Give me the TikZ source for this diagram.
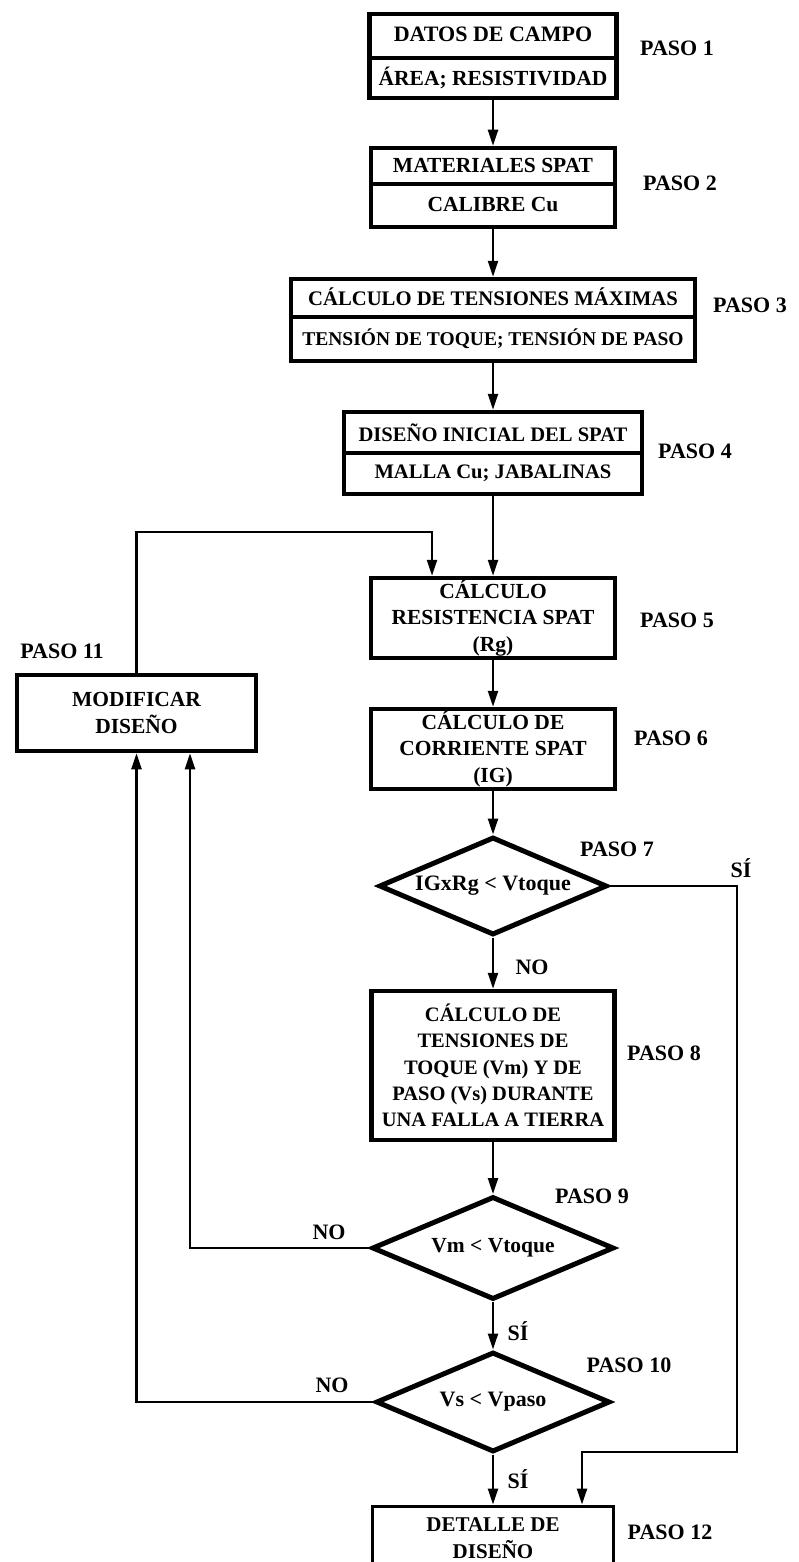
\documentclass[tikz,border=0pt]{standalone}
\usepackage{fontspec}
\setmainfont{Liberation Serif}
\usetikzlibrary{shapes.geometric,arrows.meta}
\begin{document}
\begin{tikzpicture}[x=1pt,y=-1pt,
  fs/.style={font=\fontsize{#1}{26.3}\selectfont\bfseries},
  halfbox/.style={fs=21,draw,line width=4.5pt,inner sep=0pt,align=center},
  stepbox/.style={fs=21.5,draw,line width=4.5pt,inner sep=0pt,align=center},
  finalbox/.style={fs=21,draw,line width=3pt,inner sep=0pt,align=center},
  decision/.style={fs=22,diamond,draw,line width=5pt,inner sep=0pt,aspect=2.3},
  steplabel/.style={fs=22,inner sep=0pt},
  flow/.style={line width=2.3pt,-{Triangle[length=16pt,width=10pt]}}]
\clip (0,0) rectangle (798,1562);
\fill[white] (0,0) rectangle (798,1562);

% Steps 1-4: two-part boxes
\node[halfbox,fs=22,minimum width=247,minimum height=44,text depth=3pt] (b1t) at (493,36) {DATOS DE CAMPO};
\node[halfbox,fs=21.5,minimum width=247,minimum height=40] (b1b) at (493,78) {ÁREA; RESISTIVIDAD};
\node[halfbox,fs=21.5,minimum width=244,minimum height=36,text depth=2pt] (b2t) at (493,166) {MATERIALES SPAT};
\node[halfbox,fs=21.5,minimum width=244,minimum height=43,text depth=2pt] (b2b) at (493,205.5) {CALIBRE Cu};
\node[halfbox,fs=20.7,minimum width=404,minimum height=38,text depth=3pt] (b3t) at (493,298) {CÁLCULO DE TENSIONES MÁXIMAS};
\node[halfbox,fs=19.5,minimum width=404,minimum height=44] (b3b) at (493,339) {TENSIÓN DE TOQUE; TENSIÓN DE PASO};
\node[halfbox,fs=20.6,minimum width=298,minimum height=41] (b4t) at (493,432.5) {DISEÑO INICIAL DEL SPAT};
\node[halfbox,fs=20.6,minimum width=298,minimum height=41] (b4b) at (493,473.5) {MALLA Cu; JABALINAS};

% Steps 5-12
\node[stepbox,minimum width=244,minimum height=80] (b5) at (493,618) {CÁLCULO\\RESISTENCIA SPAT\\(Rg)};
\node[stepbox,minimum width=244,minimum height=80] (b6) at (493,749) {CÁLCULO DE\\CORRIENTE SPAT\\(IG)};
\node[decision,minimum width=228,minimum height=98] (d7) at (493,886) {IGxRg < Vtoque};
\node[stepbox,fs=20.5,minimum width=243,minimum height=149] (b8) at (493,1065.5) {CÁLCULO DE\\TENSIONES DE\\TOQUE (Vm) Y DE\\PASO (Vs) DURANTE\\UNA FALLA A TIERRA};
\node[decision,fs=21.5,minimum width=242,minimum height=103] (d9) at (493,1248) {Vm < Vtoque};
\node[decision,minimum width=234,minimum height=100] (d10) at (493,1402) {Vs < Vpaso};
\node[stepbox,minimum width=239,minimum height=76] (b11) at (136.5,713) {MODIFICAR\\DISEÑO};
\node[finalbox,fs=21,minimum width=241,minimum height=64] (b12) at (493,1538) {DETALLE DE\\DISEÑO};

% Step labels
\node[steplabel] (p1) at (677,48) {PASO 1};
\node[steplabel] (p2) at (680,183) {PASO 2};
\node[steplabel] (p3) at (750,305) {PASO 3};
\node[steplabel] (p4) at (695,451) {PASO 4};
\node[steplabel] (p5) at (677,620) {PASO 5};
\node[steplabel] (p6) at (671,738) {PASO 6};
\node[steplabel] (p7) at (617,849) {PASO 7};
\node[steplabel] (p8) at (664,1053) {PASO 8};
\node[steplabel] (p9) at (592,1196) {PASO 9};
\node[steplabel] (p10) at (629,1365) {PASO 10};
\node[steplabel] (p11) at (62,651) {PASO 11};
\node[steplabel] (p12) at (670,1532) {PASO 12};

% Branch labels
\node[steplabel] (si7) at (741,868) {SÍ};
\node[steplabel] (no7) at (532,967) {NO};
\node[steplabel] (no9) at (329,1232) {NO};
\node[steplabel] (si9) at (518,1331) {SÍ};
\node[steplabel] (no10) at (332,1385) {NO};
\node[steplabel] (si10) at (518,1479) {SÍ};

% Routing points
\coordinate (loop5) at (432,532);
\coordinate (yes7) at (737,1452);

% Main flow
\draw[flow] (b1b.south) -- (b2t.north);
\draw[flow] (b2b.south) -- (b3t.north);
\draw[flow] (b3b.south) -- (b4t.north);
\draw[flow] (b4b.south) -- (b5.north);
\draw[flow] (b5.south) -- (b6.north);
\draw[flow] (b6.south) -- (d7.north);
\draw[flow] (d7.south) -- (b8.north);
\draw[flow] (b8.south) -- (d9.north);
\draw[flow] (d9.south) -- (d10.north);
\draw[flow] (d10.south) -- (b12.north);

% Feedback loops
\draw[flow] (b11.north) |- (loop5) -- (loop5 |- b5.north);
\draw[flow] (d9.west) -| ([xshift=53.5pt]b11.south);
\draw[flow] (d10.west) -| (b11.south);
\draw[flow] (d7.east) -| (yes7) -| ([xshift=89pt]b12.north);
\end{tikzpicture}
\end{document}
